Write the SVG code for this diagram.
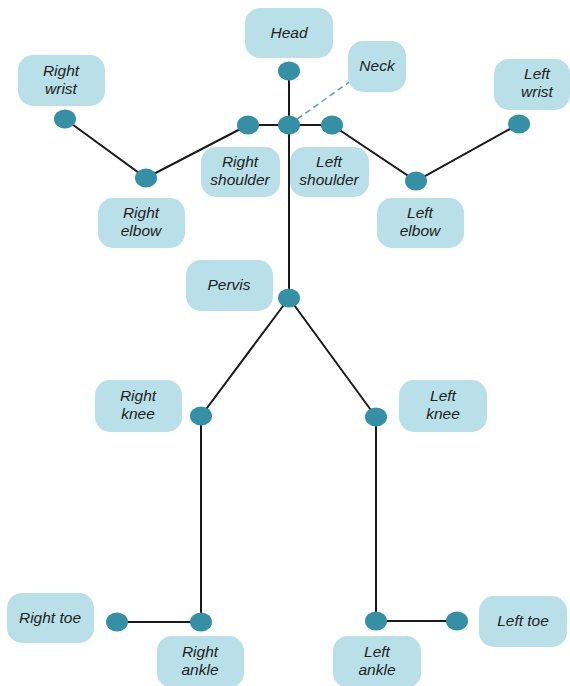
<svg xmlns="http://www.w3.org/2000/svg" width="570" height="686" viewBox="0 0 570 686">
<style>
.box{fill:#b9dfe8}
.j{fill:#358fa5}
.t{font-family:"Liberation Sans",Arial,sans-serif;font-size:15.5px;font-style:italic;fill:#222;text-anchor:middle}
.bone{stroke:#1a1a1a;stroke-width:2;fill:none}
</style>
<rect width="570" height="686" fill="#fff"/>
<g id="connectors">
<polyline class="bone" points="289,71 289,298"/>
<polyline class="bone" points="248,125 332,125"/>
<polyline class="bone" points="248,125 146,178 65,119"/>
<polyline class="bone" points="332,125 416,181 519,124"/>
<polyline class="bone" points="289,298 201,416 201,622 117,622"/>
<polyline class="bone" points="289,298 376,417 376,621 457,621"/>
<line x1="289" y1="125" x2="352" y2="80" stroke="#5b9cad" stroke-width="1.5" stroke-dasharray="6,4"/>
</g>
<g id="head"><rect class="box" x="245" y="8" width="88" height="50" rx="15"/><text class="t" x="289" y="38">Head</text><ellipse class="j" cx="289" cy="71" rx="11" ry="9.5"/></g>
<g id="neck"><rect class="box" x="348" y="41" width="58" height="51" rx="15"/><text class="t" x="377" y="71">Neck</text><ellipse class="j" cx="289" cy="125" rx="11" ry="9.5"/></g>
<g id="right-wrist"><rect class="box" x="18" y="55" width="87" height="51" rx="15"/><text class="t" x="61" y="76">Right</text><text class="t" x="61" y="94">wrist</text><ellipse class="j" cx="65" cy="119" rx="11" ry="9.5"/></g>
<g id="right-shoulder"><rect class="box" x="201" y="147" width="79" height="50" rx="15"/><text class="t" x="240" y="167">Right</text><text class="t" x="240" y="185">shoulder</text><ellipse class="j" cx="248" cy="125" rx="11" ry="9.5"/></g>
<g id="left-shoulder"><rect class="box" x="290" y="147" width="79" height="50" rx="15"/><text class="t" x="329" y="167">Left</text><text class="t" x="329" y="185">shoulder</text><ellipse class="j" cx="332" cy="125" rx="11" ry="9.5"/></g>
<g id="right-elbow"><rect class="box" x="98" y="198" width="87" height="50" rx="15"/><text class="t" x="141" y="218">Right</text><text class="t" x="141" y="236">elbow</text><ellipse class="j" cx="146" cy="178" rx="11" ry="9.5"/></g>
<g id="left-elbow"><rect class="box" x="377" y="198" width="87" height="50" rx="15"/><text class="t" x="420" y="218">Left</text><text class="t" x="420" y="236">elbow</text><ellipse class="j" cx="416" cy="181" rx="11" ry="9.5"/></g>
<g id="left-wrist"><rect class="box" x="494" y="59" width="76" height="51" rx="15"/><text class="t" x="537" y="79">Left</text><text class="t" x="537" y="97">wrist</text><ellipse class="j" cx="519" cy="124" rx="11" ry="9.5"/></g>
<g id="pervis"><rect class="box" x="186" y="260" width="87" height="51" rx="15"/><text class="t" x="229" y="290">Pervis</text><ellipse class="j" cx="289" cy="298" rx="11" ry="9.5"/></g>
<g id="right-knee"><rect class="box" x="95" y="380" width="87" height="52" rx="15"/><text class="t" x="138" y="401">Right</text><text class="t" x="138" y="419">knee</text><ellipse class="j" cx="201" cy="416" rx="11" ry="9.5"/></g>
<g id="left-knee"><rect class="box" x="399" y="380" width="88" height="52" rx="15"/><text class="t" x="443" y="401">Left</text><text class="t" x="443" y="419">knee</text><ellipse class="j" cx="376" cy="417" rx="11" ry="9.5"/></g>
<g id="right-ankle"><rect class="box" x="157" y="636" width="87" height="52" rx="15"/><text class="t" x="200" y="657">Right</text><text class="t" x="200" y="675">ankle</text><ellipse class="j" cx="201" cy="622" rx="11" ry="9.5"/></g>
<g id="right-toe"><rect class="box" x="7" y="593" width="87" height="50" rx="15"/><text class="t" x="50" y="623">Right toe</text><ellipse class="j" cx="117" cy="622" rx="11" ry="9.5"/></g>
<g id="left-ankle"><rect class="box" x="333" y="636" width="88" height="52" rx="15"/><text class="t" x="377" y="657">Left</text><text class="t" x="377" y="675">ankle</text><ellipse class="j" cx="376" cy="621" rx="11" ry="9.5"/></g>
<g id="left-toe"><rect class="box" x="479" y="596" width="88" height="51" rx="15"/><text class="t" x="523" y="626">Left toe</text><ellipse class="j" cx="457" cy="621" rx="11" ry="9.5"/></g>
</svg>
